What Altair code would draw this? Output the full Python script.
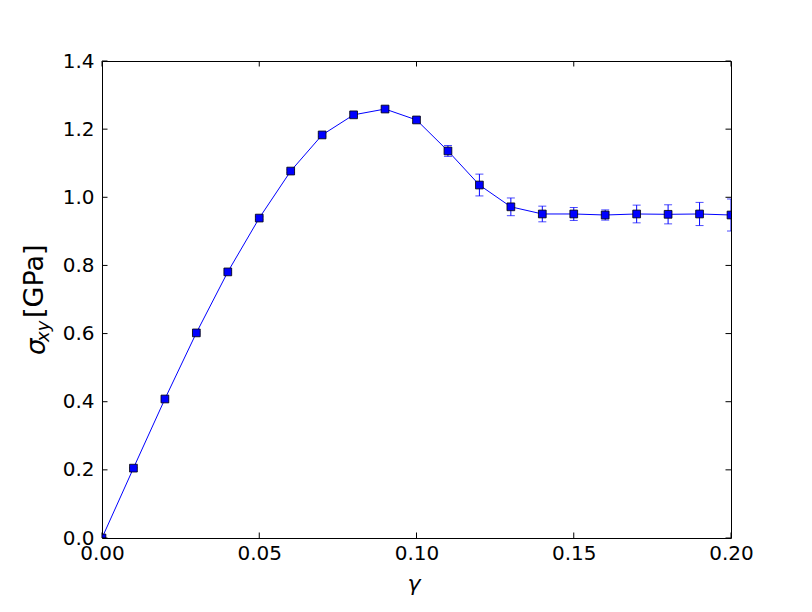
import altair as alt
import pandas as pd

gamma = [0.00, 0.01, 0.02, 0.03, 0.04, 0.05, 0.06, 0.07, 0.08, 0.09, 0.10,
         0.11, 0.12, 0.13, 0.14, 0.15, 0.16, 0.17, 0.18, 0.19, 0.20]
sigma = [0.0, 0.205, 0.408, 0.602, 0.781, 0.939, 1.077, 1.183, 1.242, 1.259, 1.227,
         1.136, 1.036, 0.972, 0.951, 0.951, 0.948, 0.951, 0.950, 0.951, 0.948]
err = [0.0, 0.002, 0.003, 0.003, 0.003, 0.004, 0.004, 0.004, 0.005, 0.006, 0.008,
       0.016, 0.032, 0.026, 0.023, 0.019, 0.015, 0.026, 0.028, 0.034, 0.047]

x_ticks = [0.0, 0.05, 0.10, 0.15, 0.20]
y_ticks = [0.0, 0.2, 0.4, 0.6, 0.8, 1.0, 1.2, 1.4]

W, H = 629, 477
FONT = "DejaVu Sans"

df = pd.DataFrame({"g": gamma, "s": sigma, "e": err})
df["lo"] = df["s"] - df["e"]
df["hi"] = df["s"] + df["e"]

xs = alt.Scale(domain=[0, 0.2], nice=False, zero=False)
ys = alt.Scale(domain=[0, 1.4], nice=False, zero=False)

xaxis = alt.Axis(values=x_ticks, format=".2f", ticks=False, grid=False, title=None,
                 labelFont=FONT, labelFontSize=20, labelColor="black", labelPadding=5,
                 domain=False, labelFlush=False)
yaxis = alt.Axis(values=y_ticks, format=".1f", ticks=False, grid=False, title=None,
                 labelFont=FONT, labelFontSize=20, labelColor="black", labelPadding=8,
                 domain=False, labelFlush=False)

base = alt.Chart(df)

line = base.mark_line(color="blue", strokeWidth=1, clip=True).encode(
    x=alt.X("g:Q", scale=xs, axis=xaxis),
    y=alt.Y("s:Q", scale=ys, axis=yaxis),
)
bars = base.mark_rule(color="blue", strokeWidth=1, clip=True).encode(
    x=alt.X("g:Q", scale=xs), y=alt.Y("lo:Q", scale=ys), y2="hi:Q"
)
cap_lo = base.mark_tick(color="blue", orient="horizontal", size=8, thickness=1, clip=True).encode(
    x=alt.X("g:Q", scale=xs), y=alt.Y("lo:Q", scale=ys)
)
cap_hi = base.mark_tick(color="blue", orient="horizontal", size=8, thickness=1, clip=True).encode(
    x=alt.X("g:Q", scale=xs), y=alt.Y("hi:Q", scale=ys)
)
pts = base.mark_point(shape="square", filled=True, fill="blue", stroke="black",
                      strokeWidth=0.8, size=60, opacity=1, clip=True).encode(
    x=alt.X("g:Q", scale=xs), y=alt.Y("s:Q", scale=ys)
)

xt = alt.Chart(pd.DataFrame({"t": x_ticks}))
yt = alt.Chart(pd.DataFrame({"t": y_ticks}))
TL = 5.5
tick_b = xt.mark_rule(color="black", strokeWidth=1).encode(
    x=alt.X("t:Q", scale=xs), y=alt.value(H), y2=alt.value(H - TL))
tick_t = xt.mark_rule(color="black", strokeWidth=1).encode(
    x=alt.X("t:Q", scale=xs), y=alt.value(0), y2=alt.value(TL))
tick_l = yt.mark_rule(color="black", strokeWidth=1).encode(
    y=alt.Y("t:Q", scale=ys), x=alt.value(0), x2=alt.value(TL))
tick_r = yt.mark_rule(color="black", strokeWidth=1).encode(
    y=alt.Y("t:Q", scale=ys), x=alt.value(W), x2=alt.value(W - TL))

one = alt.Chart(pd.DataFrame({"a": [0]}))
t_sigma = one.mark_text(text="σ", font=FONT, fontSize=26, fontStyle="italic", angle=270,
                        align="left", baseline="alphabetic", color="black").encode(
    x=alt.value(-57), y=alt.value(294))
t_xy = one.mark_text(text="xy", font=FONT, fontSize=18, fontStyle="italic", angle=270,
                     align="left", baseline="alphabetic", color="black").encode(
    x=alt.value(-53), y=alt.value(281))
t_gpa = one.mark_text(text="[GPa]", font=FONT, fontSize=27, angle=270,
                      align="left", baseline="alphabetic", color="black").encode(
    x=alt.value(-59), y=alt.value(257))
t_gamma = one.mark_text(text="γ", font=FONT, fontSize=22, fontStyle="italic",
                        align="center", baseline="alphabetic", color="black").encode(
    x=alt.value(312), y=alt.value(530))

chart = alt.layer(
    line, bars, cap_lo, cap_hi, pts, tick_b, tick_t, tick_l, tick_r,
    t_sigma, t_xy, t_gpa, t_gamma
).properties(
    width=W, height=H,
    autosize=alt.AutoSizeParams(type="none"),
    padding={"left": 94, "top": 53, "right": 73, "bottom": 66},
    background="white",
).configure_view(stroke="black", strokeWidth=1)

chart.save("out.html", embed_options={"renderer": "svg", "actions": False})
